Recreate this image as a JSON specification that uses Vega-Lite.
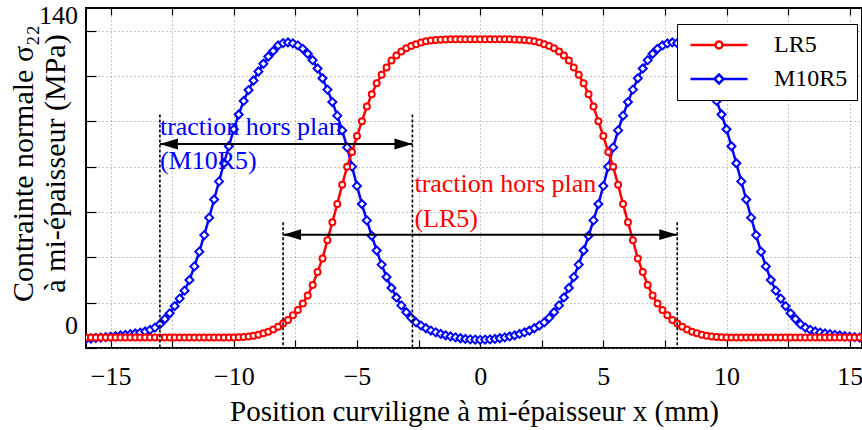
{
  "$schema": "https://vega.github.io/schema/vega-lite/v6.json",
  "width": 776,
  "height": 340,
  "autosize": {"type": "none"},
  "padding": {"left": 86, "top": 8, "right": 0, "bottom": 82},
  "background": "white",
  "config": {
    "font": "'Liberation Serif', serif",
    "view": {"stroke": "black", "strokeWidth": 2},
    "axis": {
      "labelFont": "'Liberation Serif', serif",
      "titleFont": "'Liberation Serif', serif",
      "labelColor": "black",
      "titleColor": "black",
      "titleFontWeight": "normal",
      "tickColor": "black",
      "tickWidth": 1.2,
      "domain": false,
      "grid": true,
      "gridColor": "#8c8c8c",
      "gridDash": [1, 3],
      "gridWidth": 1,
      "gridOpacity": 1,
      "labelOverlap": false
    }
  },
  "resolve": {"axis": {"x": "independent"}},
  "datasets": {
    "curves": [
      {"x": -16, "LR5": -5.4, "M10R5": -6.0},
      {"x": -15.8, "LR5": -5.4, "M10R5": -5.8},
      {"x": -15.6, "LR5": -5.4, "M10R5": -5.6},
      {"x": -15.4, "LR5": -5.4, "M10R5": -5.4},
      {"x": -15.2, "LR5": -5.4, "M10R5": -5.2},
      {"x": -15, "LR5": -5.4, "M10R5": -5.0},
      {"x": -14.8, "LR5": -5.4, "M10R5": -4.8},
      {"x": -14.6, "LR5": -5.4, "M10R5": -4.5},
      {"x": -14.4, "LR5": -5.4, "M10R5": -4.2},
      {"x": -14.2, "LR5": -5.4, "M10R5": -3.9},
      {"x": -14, "LR5": -5.4, "M10R5": -3.6},
      {"x": -13.8, "LR5": -5.4, "M10R5": -3.2},
      {"x": -13.6, "LR5": -5.4, "M10R5": -2.7},
      {"x": -13.4, "LR5": -5.4, "M10R5": -2.0},
      {"x": -13.2, "LR5": -5.4, "M10R5": -1.0},
      {"x": -13, "LR5": -5.4, "M10R5": 0.5},
      {"x": -12.8, "LR5": -5.4, "M10R5": 2.8},
      {"x": -12.6, "LR5": -5.4, "M10R5": 5.3},
      {"x": -12.4, "LR5": -5.4, "M10R5": 8.5},
      {"x": -12.2, "LR5": -5.4, "M10R5": 11.8},
      {"x": -12, "LR5": -5.4, "M10R5": 15.3},
      {"x": -11.8, "LR5": -5.4, "M10R5": 20.0},
      {"x": -11.6, "LR5": -5.4, "M10R5": 26.0},
      {"x": -11.4, "LR5": -5.4, "M10R5": 32.5},
      {"x": -11.2, "LR5": -5.4, "M10R5": 39.8},
      {"x": -11, "LR5": -5.4, "M10R5": 47.5},
      {"x": -10.8, "LR5": -5.4, "M10R5": 55.5},
      {"x": -10.6, "LR5": -5.4, "M10R5": 63.5},
      {"x": -10.4, "LR5": -5.4, "M10R5": 71.5},
      {"x": -10.2, "LR5": -5.4, "M10R5": 79.0},
      {"x": -10, "LR5": -5.4, "M10R5": 86.5},
      {"x": -9.8, "LR5": -5.3, "M10R5": 93.0},
      {"x": -9.6, "LR5": -5.1, "M10R5": 99.0},
      {"x": -9.4, "LR5": -4.9, "M10R5": 103.8},
      {"x": -9.2, "LR5": -4.6, "M10R5": 108.0},
      {"x": -9, "LR5": -4.1, "M10R5": 112.0},
      {"x": -8.8, "LR5": -3.5, "M10R5": 115.4},
      {"x": -8.6, "LR5": -2.8, "M10R5": 118.6},
      {"x": -8.4, "LR5": -1.8, "M10R5": 121.0},
      {"x": -8.2, "LR5": -0.6, "M10R5": 123.5},
      {"x": -8, "LR5": 0.8, "M10R5": 124.5},
      {"x": -7.8, "LR5": 2.4, "M10R5": 124.8},
      {"x": -7.6, "LR5": 4.4, "M10R5": 124.4},
      {"x": -7.4, "LR5": 6.8, "M10R5": 123.5},
      {"x": -7.2, "LR5": 9.6, "M10R5": 122.0},
      {"x": -7, "LR5": 13.2, "M10R5": 119.8},
      {"x": -6.8, "LR5": 17.8, "M10R5": 117.0},
      {"x": -6.6, "LR5": 23.5, "M10R5": 113.3},
      {"x": -6.4, "LR5": 29.5, "M10R5": 109.0},
      {"x": -6.2, "LR5": 37.5, "M10R5": 104.0},
      {"x": -6, "LR5": 45.5, "M10R5": 98.5},
      {"x": -5.8, "LR5": 53.5, "M10R5": 92.5},
      {"x": -5.6, "LR5": 62.0, "M10R5": 86.0},
      {"x": -5.4, "LR5": 70.0, "M10R5": 78.5},
      {"x": -5.2, "LR5": 76.5, "M10R5": 70.0},
      {"x": -5, "LR5": 83.5, "M10R5": 61.5},
      {"x": -4.8, "LR5": 90.0, "M10R5": 53.5},
      {"x": -4.6, "LR5": 96.5, "M10R5": 46.3},
      {"x": -4.4, "LR5": 102.0, "M10R5": 39.5},
      {"x": -4.2, "LR5": 106.8, "M10R5": 33.0},
      {"x": -4, "LR5": 110.5, "M10R5": 26.8},
      {"x": -3.8, "LR5": 113.8, "M10R5": 21.3},
      {"x": -3.6, "LR5": 116.8, "M10R5": 16.5},
      {"x": -3.4, "LR5": 119.0, "M10R5": 12.3},
      {"x": -3.2, "LR5": 120.8, "M10R5": 8.8},
      {"x": -3, "LR5": 122.2, "M10R5": 5.8},
      {"x": -2.8, "LR5": 123.2, "M10R5": 3.3},
      {"x": -2.6, "LR5": 124.0, "M10R5": 1.3},
      {"x": -2.4, "LR5": 124.8, "M10R5": -0.1},
      {"x": -2.2, "LR5": 125.3, "M10R5": -1.3},
      {"x": -2, "LR5": 125.7, "M10R5": -2.3},
      {"x": -1.8, "LR5": 125.9, "M10R5": -3.1},
      {"x": -1.6, "LR5": 126.0, "M10R5": -3.8},
      {"x": -1.4, "LR5": 126.1, "M10R5": -4.4},
      {"x": -1.2, "LR5": 126.2, "M10R5": -4.9},
      {"x": -1, "LR5": 126.2, "M10R5": -5.3},
      {"x": -0.8, "LR5": 126.2, "M10R5": -5.7},
      {"x": -0.6, "LR5": 126.2, "M10R5": -6.0},
      {"x": -0.4, "LR5": 126.2, "M10R5": -6.2},
      {"x": -0.2, "LR5": 126.2, "M10R5": -6.3},
      {"x": 0, "LR5": 126.2, "M10R5": -6.4},
      {"x": 0.2, "LR5": 126.2, "M10R5": -6.3},
      {"x": 0.4, "LR5": 126.2, "M10R5": -6.2},
      {"x": 0.6, "LR5": 126.2, "M10R5": -6.0},
      {"x": 0.8, "LR5": 126.2, "M10R5": -5.7},
      {"x": 1, "LR5": 126.2, "M10R5": -5.3},
      {"x": 1.2, "LR5": 126.2, "M10R5": -4.9},
      {"x": 1.4, "LR5": 126.1, "M10R5": -4.4},
      {"x": 1.6, "LR5": 126.0, "M10R5": -3.8},
      {"x": 1.8, "LR5": 125.9, "M10R5": -3.1},
      {"x": 2, "LR5": 125.7, "M10R5": -2.3},
      {"x": 2.2, "LR5": 125.3, "M10R5": -1.3},
      {"x": 2.4, "LR5": 124.8, "M10R5": -0.1},
      {"x": 2.6, "LR5": 124.0, "M10R5": 1.3},
      {"x": 2.8, "LR5": 123.2, "M10R5": 3.3},
      {"x": 3, "LR5": 122.2, "M10R5": 5.8},
      {"x": 3.2, "LR5": 120.8, "M10R5": 8.8},
      {"x": 3.4, "LR5": 119.0, "M10R5": 12.3},
      {"x": 3.6, "LR5": 116.8, "M10R5": 16.5},
      {"x": 3.8, "LR5": 113.8, "M10R5": 21.3},
      {"x": 4, "LR5": 110.5, "M10R5": 26.8},
      {"x": 4.2, "LR5": 106.8, "M10R5": 33.0},
      {"x": 4.4, "LR5": 102.0, "M10R5": 39.5},
      {"x": 4.6, "LR5": 96.5, "M10R5": 46.3},
      {"x": 4.8, "LR5": 90.0, "M10R5": 53.5},
      {"x": 5, "LR5": 83.5, "M10R5": 61.5},
      {"x": 5.2, "LR5": 76.5, "M10R5": 70.0},
      {"x": 5.4, "LR5": 70.0, "M10R5": 78.5},
      {"x": 5.6, "LR5": 62.0, "M10R5": 86.0},
      {"x": 5.8, "LR5": 53.5, "M10R5": 92.5},
      {"x": 6, "LR5": 45.5, "M10R5": 98.5},
      {"x": 6.2, "LR5": 37.5, "M10R5": 104.0},
      {"x": 6.4, "LR5": 29.5, "M10R5": 109.0},
      {"x": 6.6, "LR5": 23.5, "M10R5": 113.3},
      {"x": 6.8, "LR5": 17.8, "M10R5": 117.0},
      {"x": 7, "LR5": 13.2, "M10R5": 119.8},
      {"x": 7.2, "LR5": 9.6, "M10R5": 122.0},
      {"x": 7.4, "LR5": 6.8, "M10R5": 123.5},
      {"x": 7.6, "LR5": 4.4, "M10R5": 124.4},
      {"x": 7.8, "LR5": 2.4, "M10R5": 124.8},
      {"x": 8, "LR5": 0.8, "M10R5": 124.5},
      {"x": 8.2, "LR5": -0.6, "M10R5": 123.5},
      {"x": 8.4, "LR5": -1.8, "M10R5": 121.0},
      {"x": 8.6, "LR5": -2.8, "M10R5": 118.6},
      {"x": 8.8, "LR5": -3.5, "M10R5": 115.4},
      {"x": 9, "LR5": -4.1, "M10R5": 112.0},
      {"x": 9.2, "LR5": -4.6, "M10R5": 108.0},
      {"x": 9.4, "LR5": -4.9, "M10R5": 103.8},
      {"x": 9.6, "LR5": -5.1, "M10R5": 99.0},
      {"x": 9.8, "LR5": -5.3, "M10R5": 93.0},
      {"x": 10, "LR5": -5.4, "M10R5": 86.5},
      {"x": 10.2, "LR5": -5.4, "M10R5": 79.0},
      {"x": 10.4, "LR5": -5.4, "M10R5": 71.5},
      {"x": 10.6, "LR5": -5.4, "M10R5": 63.5},
      {"x": 10.8, "LR5": -5.4, "M10R5": 55.5},
      {"x": 11, "LR5": -5.4, "M10R5": 47.5},
      {"x": 11.2, "LR5": -5.4, "M10R5": 39.8},
      {"x": 11.4, "LR5": -5.4, "M10R5": 32.5},
      {"x": 11.6, "LR5": -5.4, "M10R5": 26.0},
      {"x": 11.8, "LR5": -5.4, "M10R5": 20.0},
      {"x": 12, "LR5": -5.4, "M10R5": 15.3},
      {"x": 12.2, "LR5": -5.4, "M10R5": 11.8},
      {"x": 12.4, "LR5": -5.4, "M10R5": 8.5},
      {"x": 12.6, "LR5": -5.4, "M10R5": 5.3},
      {"x": 12.8, "LR5": -5.4, "M10R5": 2.8},
      {"x": 13, "LR5": -5.4, "M10R5": 0.5},
      {"x": 13.2, "LR5": -5.4, "M10R5": -1.0},
      {"x": 13.4, "LR5": -5.4, "M10R5": -2.0},
      {"x": 13.6, "LR5": -5.4, "M10R5": -2.7},
      {"x": 13.8, "LR5": -5.4, "M10R5": -3.2},
      {"x": 14, "LR5": -5.4, "M10R5": -3.6},
      {"x": 14.2, "LR5": -5.4, "M10R5": -3.9},
      {"x": 14.4, "LR5": -5.4, "M10R5": -4.2},
      {"x": 14.6, "LR5": -5.4, "M10R5": -4.5},
      {"x": 14.8, "LR5": -5.4, "M10R5": -4.8},
      {"x": 15, "LR5": -5.4, "M10R5": -5.0},
      {"x": 15.2, "LR5": -5.4, "M10R5": -5.2},
      {"x": 15.4, "LR5": -5.4, "M10R5": -5.4},
      {"x": 15.6, "LR5": -5.4, "M10R5": -5.6},
      {"x": 15.8, "LR5": -5.4, "M10R5": -5.8},
      {"x": 16, "LR5": -5.4, "M10R5": -6.0}
    ],
    "vlines": [
      {"x": -13, "top": 93, "bottom": -10},
      {"x": -2.75, "top": 93, "bottom": -10},
      {"x": -8, "top": 45.5, "bottom": -10},
      {"x": 8, "top": 45.5, "bottom": -10}
    ],
    "arrows": [
      {"x": -13, "x2": -2.75, "y": 80},
      {"x": -8, "x2": 8, "y": 40}
    ],
    "heads": [
      {"x": -13, "y": 80, "dir": "l"},
      {"x": -2.75, "y": 80, "dir": "r"},
      {"x": -8, "y": 40, "dir": "l"},
      {"x": 8, "y": 40, "dir": "r"}
    ],
    "bluetext": [
      {"x": -13, "y": 84, "t": "traction hors plan"},
      {"x": -13, "y": 69, "t": "(M10R5)"}
    ],
    "redtext": [
      {"x": -2.75, "y": 59, "t": "traction hors plan"},
      {"x": -2.75, "y": 43.5, "t": "(LR5)"}
    ],
    "ylabel0": [{"y": 0, "t": "0"}],
    "ylabel140": [{"y": 140, "t": "140"}]
  },
  "layer": [
    {
      "data": {"name": "curves"},
      "mark": {"type": "line", "strokeWidth": 2.5, "clip": true},
      "encoding": {
        "x": {
          "field": "x", "type": "quantitative",
          "scale": {"domain": [-16, 15.5], "nice": false, "zero": false},
          "axis": {
            "orient": "bottom",
            "values": [-15, -12.5, -10, -7.5, -5, -2.5, 0, 2.5, 5, 7.5, 10, 12.5, 15],
            "labelExpr": "datum.value % 5 == 0 ? datum.label : ''",
            "tickSize": -8,
            "labelPadding": 23,
            "labelFontSize": 26,
            "title": "Position curviligne à mi-épaisseur x (mm)",
            "titleFontSize": 29,
            "titleY": 49,
            "titleBaseline": "top"
          }
        },
        "y": {
          "field": "M10R5", "type": "quantitative",
          "scale": {"domain": [-10, 140], "nice": false, "zero": false},
          "axis": {
            "values": [-10, 0, 10, 20, 30, 40, 50, 60, 70, 80, 90, 100, 110, 120, 130, 140],
            "labels": false,
            "tickSize": -10,
            "title": ["Contrainte normale σ₂₂", "à mi-épaisseur (MPa)"],
            "titleFontSize": 30,
            "titleLineHeight": 32,
            "titleX": -48,
            "titleY": 155,
            "titleAngle": -90,
            "titleBaseline": "bottom",
            "titleAlign": "center"
          }
        },
        "color": {
          "datum": "M10R5",
          "scale": {"domain": ["LR5", "M10R5"], "range": ["#ff0000", "#0000ff"]},
          "legend": {
            "title": null,
            "orient": "none",
            "legendX": 591,
            "legendY": 16,
            "strokeColor": "black",
            "fillColor": "white",
            "padding": 9,
            "labelFont": "'Liberation Serif', serif",
            "labelFontSize": 24,
            "labelColor": "black",
            "symbolSize": 100,
            "symbolStrokeWidth": 2.5,
            "symbolOffset": 21,
            "labelOffset": 43,
            "rowPadding": 10,
            "encode": {
              "symbols": {
                "update": {
                  "shape": {"signal": "datum.value === 'LR5' ? 'M-5.7,0L-0.7,0M0.7,0L5.7,0M0.7,0A0.7,0.7,0,1,1,-0.7,0A0.7,0.7,0,1,1,0.7,0Z' : 'M-5.7,0L-0.9,0M0.9,0L5.7,0M-0.9,0L0,-0.9L0.9,0L0,0.9Z'"},
                  "fill": {"value": "white"},
                  "fillOpacity": {"value": 1},
                  "opacity": {"value": 1}
                }
              }
            }
          }
        }
      }
    },
    {
      "data": {"name": "curves"},
      "mark": {"type": "point", "shape": "diamond", "filled": false, "fill": "white", "size": 64, "strokeWidth": 2, "opacity": 1, "clip": true},
      "encoding": {
        "x": {"field": "x", "type": "quantitative", "axis": null},
        "y": {"field": "M10R5", "type": "quantitative"},
        "color": {"datum": "M10R5"}
      }
    },
    {
      "data": {"name": "curves"},
      "mark": {"type": "line", "strokeWidth": 2.5, "clip": true},
      "encoding": {
        "x": {"field": "x", "type": "quantitative", "axis": null},
        "y": {"field": "LR5", "type": "quantitative"},
        "color": {"datum": "LR5"}
      }
    },
    {
      "data": {"name": "curves"},
      "mark": {"type": "point", "shape": "circle", "filled": false, "fill": "white", "size": 36, "strokeWidth": 2, "opacity": 1, "clip": true},
      "encoding": {
        "x": {"field": "x", "type": "quantitative", "axis": null},
        "y": {"field": "LR5", "type": "quantitative"},
        "color": {"datum": "LR5"}
      }
    },
    {
      "data": {"name": "vlines"},
      "mark": {"type": "rule", "color": "black", "strokeWidth": 1.6, "strokeDash": [3, 2]},
      "encoding": {
        "x": {
          "field": "x", "type": "quantitative",
          "axis": {
            "orient": "top",
            "values": [-15, -12.5, -10, -7.5, -5, -2.5, 0, 2.5, 5, 7.5, 10, 12.5, 15],
            "labels": false,
            "grid": false,
            "ticks": true,
            "tickSize": -7,
            "title": null
          }
        },
        "y": {"field": "top", "type": "quantitative"},
        "y2": {"field": "bottom"}
      }
    },
    {
      "data": {"name": "arrows"},
      "mark": {"type": "rule", "color": "black", "strokeWidth": 2},
      "encoding": {
        "x": {"field": "x", "type": "quantitative", "axis": null},
        "x2": {"field": "x2"},
        "y": {"field": "y", "type": "quantitative"}
      }
    },
    {
      "data": {"name": "heads"},
      "mark": {"type": "point", "filled": true, "color": "black", "size": 324, "opacity": 1, "strokeWidth": 0},
      "encoding": {
        "x": {"field": "x", "type": "quantitative", "axis": null},
        "y": {"field": "y", "type": "quantitative"},
        "shape": {
          "field": "dir", "type": "nominal",
          "scale": {"domain": ["l", "r"], "range": ["M0,0L2,-0.6L2,0.6Z", "M0,0L-2,-0.6L-2,0.6Z"]},
          "legend": null
        }
      }
    },
    {
      "data": {"name": "bluetext"},
      "mark": {"type": "text", "color": "#0000ff", "font": "'Liberation Serif', serif", "fontSize": 26, "align": "left", "baseline": "alphabetic", "dx": 0},
      "encoding": {
        "x": {"field": "x", "type": "quantitative", "axis": null},
        "y": {"field": "y", "type": "quantitative"},
        "text": {"field": "t"}
      }
    },
    {
      "data": {"name": "redtext"},
      "mark": {"type": "text", "color": "#ff0000", "font": "'Liberation Serif', serif", "fontSize": 26, "align": "left", "baseline": "alphabetic", "dx": 2},
      "encoding": {
        "x": {"field": "x", "type": "quantitative", "axis": null},
        "y": {"field": "y", "type": "quantitative"},
        "text": {"field": "t"}
      }
    },
    {
      "data": {"name": "ylabel0"},
      "mark": {"type": "text", "color": "black", "font": "'Liberation Serif', serif", "fontSize": 26, "align": "right", "baseline": "middle", "dx": -8, "dy": 1},
      "encoding": {
        "x": {"datum": -16, "type": "quantitative", "axis": null},
        "y": {"field": "y", "type": "quantitative"},
        "text": {"field": "t"}
      }
    },
    {
      "data": {"name": "ylabel140"},
      "mark": {"type": "text", "color": "black", "font": "'Liberation Serif', serif", "fontSize": 26, "align": "right", "baseline": "top", "dx": -8, "dy": -5},
      "encoding": {
        "x": {"datum": -16, "type": "quantitative", "axis": null},
        "y": {"field": "y", "type": "quantitative"},
        "text": {"field": "t"}
      }
    }
  ]
}
